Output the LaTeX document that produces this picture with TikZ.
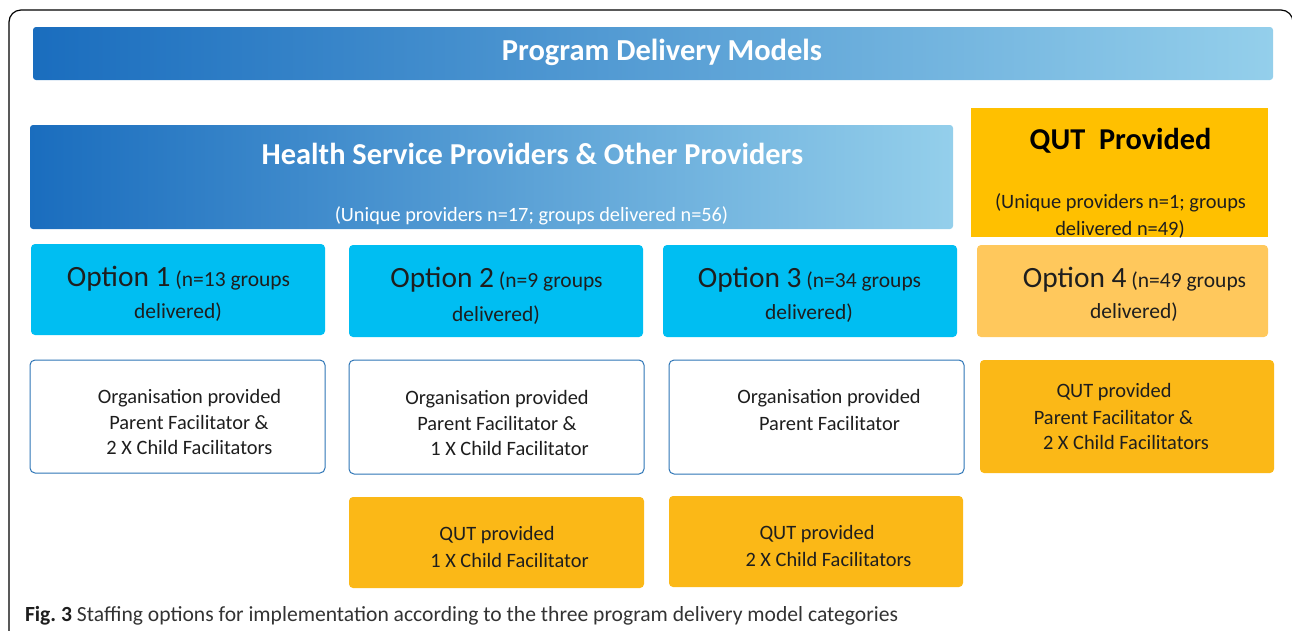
\documentclass[tikz,border=0pt]{standalone}
\usepackage{fontspec}
\setmainfont{Carlito}
\usetikzlibrary{shadings}
\definecolor{barL}{HTML}{1A6DBE}
\definecolor{barR}{HTML}{94CFEB}
\definecolor{optcyan}{HTML}{00BEF2}
\definecolor{optorange}{HTML}{FFC85C}
\definecolor{quttop}{HTML}{FFC000}
\definecolor{qutbox}{HTML}{FBB817}
\definecolor{orgblue}{HTML}{2E75B6}
\definecolor{txt}{HTML}{1E1E1E}
\definecolor{captxt}{HTML}{333333}
\begin{document}
\begin{tikzpicture}[x=1pt,y=-1pt,
  every node/.style={inner sep=0pt, outer sep=0pt},
  lbl/.style={yshift=-1.5pt},
  gradbar/.style={anchor=north west, left color=barL, right color=barR, rounded corners=3pt},
  optbox/.style={anchor=north west, fill=optcyan, rounded corners=4pt},
  opt4box/.style={anchor=north west, fill=optorange, rounded corners=4pt},
  orgbox/.style={anchor=north west, draw=orgblue, line width=1pt, fill=white, rounded corners=5pt},
  qutbx/.style={anchor=north west, fill=qutbox, rounded corners=4pt},
  bodytext/.style={lbl, text=txt, font=\fontsize{20.4}{24}\selectfont},
  opttext/.style={lbl, text=txt, font=\fontsize{21.5}{26}\selectfont},
]
\useasboundingbox (0,0) rectangle (1292,630);
% outer frame
\draw[line width=1.2pt, rounded corners=12pt] (9,660) -- (9,10) -- (1293,10) -- (1293,660);

% title bar
\node[gradbar, minimum width=1240pt, minimum height=53pt] (title) at (33,27) {};
\node[lbl, text=white, font=\bfseries\fontsize{30.5}{34}\selectfont] (titlet) at (662,51) {Program Delivery Models};

% HSP bar
\node[gradbar, minimum width=923pt, minimum height=104pt] (hsp) at (30,125) {};
\node[lbl, text=white, font=\bfseries\fontsize{30.4}{34}\selectfont] (hspt) at (532.5,152) {Health Service Providers \& Other Providers};
\node[lbl, text=white, font=\fontsize{20.3}{24}\selectfont] (hsps) at (531.5,214) {(Unique providers n=17; groups delivered n=56)};

% QUT provided
\node[anchor=north west, fill=quttop, minimum width=297pt, minimum height=129pt] (qut) at (971,108) {};
\node[lbl, text=black, font=\bfseries\fontsize{30.3}{34}\selectfont] (qutt) at (1120.5,139) {QUT\ \ Provided};
\node[lbl, text=txt, font=\fontsize{20.4}{24}\selectfont] (quts1) at (1120.5,201) {(Unique providers n=1; groups};
\node[lbl, text=txt, font=\fontsize{20.4}{24}\selectfont] (quts2) at (1120,228) {delivered n=49)};

% option boxes
\node[optbox, minimum width=294pt, minimum height=91pt] (o1) at (31,244) {};
\node[optbox, minimum width=294pt, minimum height=92pt] (o2) at (349,245) {};
\node[optbox, minimum width=294pt, minimum height=92pt] (o3) at (663,245) {};
\node[opt4box, minimum width=291pt, minimum height=92pt] (o4) at (977,245) {};

\node[opttext] (o1a) at (178.5,277) {{\fontsize{29.4}{34}\selectfont Option 1} (n=13 groups};
\node[opttext] (o1b) at (178,311) {delivered)};
\node[opttext] (o2a) at (496.5,278) {{\fontsize{29.4}{34}\selectfont Option 2} (n=9 groups};
\node[opttext] (o2b) at (496,314) {delivered)};
\node[opttext] (o3a) at (809.5,278) {{\fontsize{29.4}{34}\selectfont Option 3} (n=34 groups};
\node[opttext] (o3b) at (809,312) {delivered)};
\node[opttext] (o4a) at (1134.5,278) {{\fontsize{29.4}{34}\selectfont Option 4} (n=49 groups};
\node[opttext] (o4b) at (1134,311) {delivered)};

% organisation boxes
\node[orgbox, minimum width=295pt, minimum height=113pt] (g1) at (30,360) {};
\node[orgbox, minimum width=295pt, minimum height=114pt] (g2) at (349,360) {};
\node[orgbox, minimum width=295pt, minimum height=114pt] (g3) at (669,360) {};
\node[qutbx, minimum width=294pt, minimum height=113pt] (g4) at (980,360) {};

\node[bodytext] (g1a) at (189.5,397) {Organisation provided};
\node[bodytext] (g1b) at (189,421) {Parent Facilitator \&};
\node[bodytext] (g1c) at (189.5,446) {2 X Child Facilitators};

\node[bodytext] (g2a) at (497,398) {Organisation provided};
\node[bodytext] (g2b) at (497,422) {Parent Facilitator \&};
\node[bodytext] (g2c) at (509.5,447) {1 X Child Facilitator};

\node[bodytext] (g3a) at (829,397) {Organisation provided};
\node[bodytext] (g3b) at (829.5,422) {Parent Facilitator};

\node[bodytext] (g4a) at (1114,391) {QUT provided};
\node[bodytext] (g4b) at (1113.5,416) {Parent Facilitator \&};
\node[bodytext] (g4c) at (1126,441) {2 X Child Facilitators};

% bottom QUT boxes
\node[qutbx, minimum width=295pt, minimum height=91pt] (q2) at (349,497) {};
\node[qutbx, minimum width=294pt, minimum height=91pt] (q3) at (669,496) {};
\node[bodytext] (q2a) at (497,534) {QUT provided};
\node[bodytext] (q2b) at (509.5,559) {1 X Child Facilitator};
\node[bodytext] (q3a) at (817,533) {QUT provided};
\node[bodytext] (q3b) at (828.5,558) {2 X Child Facilitators};

% caption
\node[lbl, anchor=west, text=captxt, font=\fontsize{21.6}{24}\selectfont] (cap) at (25,614) {{\bfseries\color{txt}Fig.~3} Staffing options for implementation according to the three program delivery model categories};
\end{tikzpicture}
\end{document}
